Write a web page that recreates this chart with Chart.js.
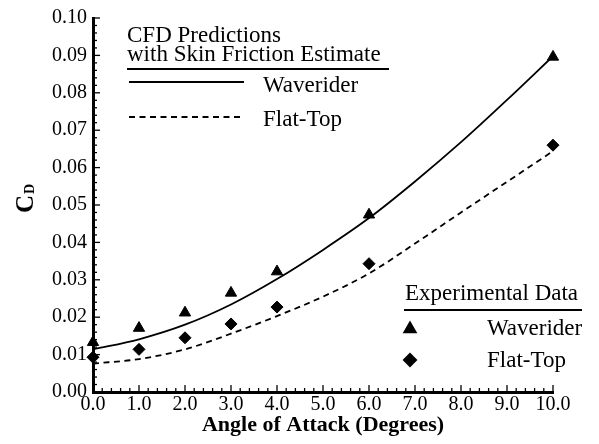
<!DOCTYPE html>
<html>
<head>
<meta charset="utf-8">
<script src="https://cdn.jsdelivr.net/npm/chart.js@4/dist/chart.umd.min.js"></script>
<style>
  html, body { margin: 0; padding: 0; background: #fff; }
  #wrap { width: 599px; height: 444px; }
</style>
</head>
<body>
<div id="wrap"><canvas id="chart" width="599" height="444"></canvas></div>
<script>
// CFD predictions (with skin friction estimate)
var alphaCfd = [0, 1, 2, 3, 4, 5, 6, 7, 8, 9, 10];
var cfdWaverider = [0.0114, 0.0141, 0.0180, 0.0234, 0.0302, 0.0380, 0.0465, 0.0563, 0.0668, 0.0781, 0.0898];
var cfdFlatTop = [0.0076, 0.0088, 0.0114, 0.0156, 0.0203, 0.0255, 0.0317, 0.0397, 0.0480, 0.0562, 0.0644];

// experimental data
var alphaExp = [0, 1, 2, 3, 4, 6, 10];
var expWaverider = [0.0133, 0.0171, 0.0212, 0.0265, 0.0322, 0.0474, 0.0896];
var expFlatTop = [0.0093, 0.0114, 0.0145, 0.0182, 0.0227, 0.0343, 0.0660];

var serif = '"Liberation Serif", "Times New Roman", serif';

function pairs(xs, ys) {
    var out = [];
    for (var i = 0; i < xs.length; i++) {
        out.push({x: xs[i], y: ys[i]});
    }
    return out;
}

// inward ticks, legend blocks and the C_D label
var decorations = {
    id: 'decorations',
    afterDraw: function(chart) {
        var ctx = chart.ctx;
        var xs = chart.scales.x;
        var ys = chart.scales.y;
        ctx.save();
        ctx.strokeStyle = '#000';
        ctx.fillStyle = '#000';
        ctx.lineWidth = 1.3;

        for (var i = 0; i <= 50; i++) {
            var px = xs.getPixelForValue(i * 0.2);
            var len = (i % 5 == 0) ? 7 : 4;
            ctx.beginPath();
            ctx.moveTo(px, ys.bottom);
            ctx.lineTo(px, ys.bottom - len);
            ctx.stroke();
        }
        for (var j = 0; j <= 50; j++) {
            var py = ys.getPixelForValue(j * 0.002);
            var len2 = (j % 5 == 0) ? 7 : 4;
            ctx.beginPath();
            ctx.moveTo(xs.left, py);
            ctx.lineTo(xs.left + len2, py);
            ctx.stroke();
        }

        // CFD legend
        ctx.font = '23px ' + serif;
        ctx.textBaseline = 'alphabetic';
        ctx.textAlign = 'left';
        ctx.fillText('CFD Predictions', 127, 42);
        ctx.fillText('with Skin Friction Estimate', 127, 61);
        ctx.lineWidth = 2;
        ctx.beginPath();
        ctx.moveTo(127, 69);
        ctx.lineTo(389, 69);
        ctx.stroke();

        ctx.lineWidth = 1.8;
        ctx.beginPath();
        ctx.moveTo(129, 82);
        ctx.lineTo(244, 82);
        ctx.stroke();
        ctx.setLineDash([6, 4.5]);
        ctx.beginPath();
        ctx.moveTo(129, 117);
        ctx.lineTo(244, 117);
        ctx.stroke();
        ctx.setLineDash([]);
        ctx.textBaseline = 'middle';
        ctx.fillText('Waverider', 263, 86);
        ctx.fillText('Flat-Top', 263, 120);

        // experimental legend
        ctx.textBaseline = 'alphabetic';
        ctx.fillText('Experimental Data', 405, 300);
        ctx.lineWidth = 2;
        ctx.beginPath();
        ctx.moveTo(404, 310);
        ctx.lineTo(582, 310);
        ctx.stroke();
        Chart.helpers.drawPoint(ctx, {pointStyle: 'triangle', radius: 6.5, borderWidth: 1}, 410, 329);
        ctx.fill();
        Chart.helpers.drawPoint(ctx, {pointStyle: 'rectRot', radius: 6, borderWidth: 1}, 410, 360);
        ctx.fill();
        ctx.textBaseline = 'middle';
        ctx.fillText('Waverider', 487, 329);
        ctx.fillText('Flat-Top', 487, 361);

        // y axis title C_D
        ctx.translate(33, 213);
        ctx.rotate(-Math.PI / 2);
        ctx.textBaseline = 'alphabetic';
        ctx.font = 'bold 25px ' + serif;
        ctx.fillText('C', 0, 0);
        var cw = ctx.measureText('C').width;
        ctx.font = 'bold 14px ' + serif;
        ctx.fillText('D', cw + 1, 1);
        ctx.restore();
    }
};

var data = {
    datasets: [{
        type: 'line',
        label: 'CFD Waverider',
        data: pairs(alphaCfd, cfdWaverider),
        borderColor: '#000',
        borderWidth: 1.8,
        pointRadius: 0,
        cubicInterpolationMode: 'monotone',
        fill: false
    }, {
        type: 'line',
        label: 'CFD Flat-Top',
        data: pairs(alphaCfd, cfdFlatTop),
        borderColor: '#000',
        borderWidth: 1.8,
        borderDash: [6, 4.5],
        pointRadius: 0,
        cubicInterpolationMode: 'monotone',
        fill: false
    }, {
        type: 'scatter',
        label: 'Exp Waverider',
        data: pairs(alphaExp, expWaverider),
        pointStyle: 'triangle',
        pointRadius: 6.5,
        pointBackgroundColor: '#000',
        pointBorderColor: '#000',
        pointBorderWidth: 1,
        clip: false
    }, {
        type: 'scatter',
        label: 'Exp Flat-Top',
        data: pairs(alphaExp, expFlatTop),
        pointStyle: 'rectRot',
        pointRadius: 6,
        pointBackgroundColor: '#000',
        pointBorderColor: '#000',
        pointBorderWidth: 1,
        clip: false
    }]
};

var config = {
    type: 'scatter',
    data: data,
    options: {
        responsive: false,
        animation: false,
        layout: { padding: { left: 0, right: 46, top: 16, bottom: 0 } },
        plugins: {
            legend: { display: false },
            tooltip: { enabled: false }
        },
        scales: {
            x: {
                type: 'linear',
                min: 0,
                max: 10,
                afterFit: function(scale) { scale.height = 52; },
                border: { display: true, color: '#000', width: 3 },
                grid: { drawOnChartArea: false, drawTicks: false },
                ticks: {
                    stepSize: 1,
                    padding: 1,
                    color: '#000',
                    font: { family: serif, size: 20 },
                    callback: function(v) { return Number(v).toFixed(1); }
                },
                title: {
                    display: true,
                    text: 'Angle of Attack (Degrees)',
                    color: '#000',
                    font: { family: serif, size: 22, weight: 'bold' },
                    padding: { top: 0, bottom: 5 }
                }
            },
            y: {
                type: 'linear',
                min: 0,
                max: 0.1,
                afterFit: function(scale) { scale.width = 93; },
                border: { display: true, color: '#000', width: 3 },
                grid: { drawOnChartArea: false, drawTicks: false },
                ticks: {
                    stepSize: 0.01,
                    padding: 6,
                    color: '#000',
                    font: { family: serif, size: 20 },
                    callback: function(v) { return Number(v).toFixed(2); }
                }
            }
        }
    },
    plugins: [decorations]
};

var chart = new Chart(document.getElementById('chart'), config);
</script>
</body>
</html>
